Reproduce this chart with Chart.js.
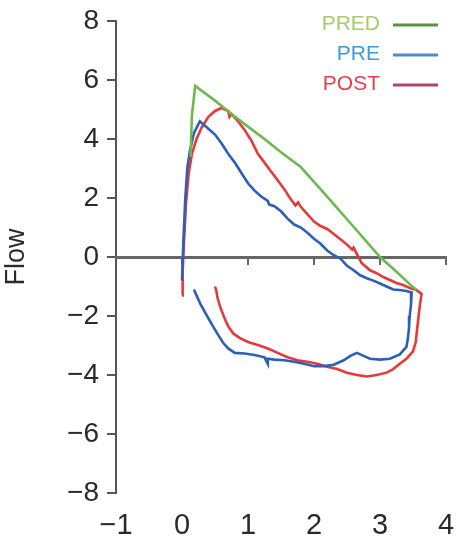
<!DOCTYPE html>
<html>
<head>
<meta charset="utf-8">
<script src="https://cdn.jsdelivr.net/npm/chart.js@4.4.0/dist/chart.umd.min.js"></script>
<style>
html,body{margin:0;padding:0;background:#fff;}
#wrap{width:461px;height:543px;position:relative;}
</style>
</head>
<body>
<div id="wrap"><canvas id="c" width="461" height="543"></canvas></div>
<script>
// ---- data ----
const seriesNames = ['PRED', 'PRE', 'POST'];

const predX = [0.13, 0.15, 0.2, 0.5, 0.75, 1.0, 1.25, 1.5, 1.8, 2.0, 2.25, 2.5, 2.75, 3.0, 3.25, 3.45, 3.55];
const predY = [3.4, 4.8, 5.8, 5.3, 4.85, 4.42, 4.0, 3.55, 3.05, 2.55, 1.92, 1.28, 0.64, 0.0, -0.5, -0.92, -1.12];

const preX = [0.0, 0.02, 0.05, 0.08, 0.12, 0.18, 0.27, 0.4, 0.5, 0.6, 0.7, 0.8, 0.9, 1.0, 1.1, 1.2, 1.3, 1.32, 1.4, 1.5, 1.6, 1.7, 1.8, 1.9, 2.0, 2.1, 2.2, 2.3, 2.4, 2.5, 2.6, 2.7, 2.8, 2.9, 3.0, 3.1, 3.2, 3.3, 3.4, 3.48,
  3.47, 3.45, 3.44, 3.42, 3.4, 3.3, 3.15, 3.0, 2.85, 2.75, 2.65, 2.55, 2.45, 2.3, 2.15, 2.0, 1.85, 1.7, 1.55, 1.4, 1.3, 1.3, 1.25, 1.1, 0.95, 0.8, 0.7, 0.62, 0.55, 0.47, 0.38, 0.28, 0.22, 0.18];
const preY = [-0.8, 0.5, 2.0, 3.0, 3.6, 4.2, 4.6, 4.35, 4.15, 3.85, 3.5, 3.2, 2.85, 2.5, 2.25, 2.05, 1.9, 1.78, 1.72, 1.55, 1.3, 1.1, 1.0, 0.82, 0.62, 0.45, 0.22, 0.06, -0.05, -0.3, -0.45, -0.62, -0.72, -0.8, -0.9, -1.0, -1.1, -1.12, -1.15, -1.2,
  -1.6, -2.0, -2.4, -2.8, -3.05, -3.3, -3.45, -3.48, -3.45, -3.35, -3.25, -3.35, -3.5, -3.65, -3.7, -3.7, -3.62, -3.55, -3.5, -3.48, -3.45, -3.62, -3.4, -3.32, -3.27, -3.25, -3.1, -2.9, -2.65, -2.35, -2.0, -1.6, -1.3, -1.1];

const postX = [0.0, 0.01, 0.03, 0.06, 0.1, 0.15, 0.22, 0.3, 0.4, 0.5, 0.6, 0.7, 0.72, 0.75, 0.85, 0.95, 1.05, 1.15, 1.25, 1.35, 1.45, 1.55, 1.65, 1.72, 1.76, 1.8, 1.9, 2.0, 2.1, 2.2, 2.3, 2.4, 2.5, 2.58, 2.6, 2.65, 2.72, 2.85, 2.95, 3.05, 3.15, 3.25, 3.35, 3.45, 3.55, 3.63,
  3.6, 3.58, 3.56, 3.54, 3.5, 3.4, 3.3, 3.2, 3.1, 2.95, 2.8, 2.65, 2.5, 2.35, 2.2, 2.05, 1.9, 1.75, 1.6, 1.45, 1.3, 1.15, 1.0, 0.88, 0.78, 0.7, 0.64, 0.58, 0.54, 0.52, 0.5];
const postY = [-1.3, -0.5, 0.5, 1.8, 2.8, 3.5, 4.0, 4.4, 4.75, 4.95, 5.05, 4.95, 4.75, 4.85, 4.6, 4.3, 3.95, 3.5, 3.2, 2.9, 2.6, 2.3, 1.95, 1.75, 1.85, 1.7, 1.45, 1.2, 1.05, 0.95, 0.78, 0.6, 0.42, 0.25, 0.32, 0.1, -0.2, -0.45, -0.55, -0.68, -0.78, -0.88, -0.95, -1.05, -1.12, -1.25,
  -1.7, -2.1, -2.5, -2.9, -3.2, -3.45, -3.62, -3.8, -3.92, -4.0, -4.05, -4.0, -3.92, -3.8, -3.72, -3.62, -3.55, -3.5, -3.4, -3.25, -3.1, -2.98, -2.88, -2.75, -2.6, -2.35, -2.05, -1.7, -1.4, -1.15, -1.0];

const xTickValues = [-1, 0, 1, 2, 3, 4];
const xTickLabels = ['\u22121', '0', '1', '2', '3', '4'];
const yTickValues = [-8, -6, -4, -2, 0, 2, 4, 6, 8];
const yTickLabels = ['\u22128', '\u22126', '\u22124', '\u22122', '0', '2', '4', '6', '8'];
const yAxisTitle = 'Flow';

// ---- styles ----
const lineColors = ['#6cb94f', '#2c5fb8', '#e63a3a'];
const legendTextColors = ['#a9c96e', '#3f9bd6', '#e2404e'];
const legendLineColors = ['#5b8f4a', '#4a8fc6', '#b04670'];
const FONT = "'Liberation Sans', Arial, sans-serif";

function pts(xs, ys) { return xs.map((x, i) => ({ x: x, y: ys[i] })); }
const seriesData = [pts(predX, predY), pts(preX, preY), pts(postX, postY)];

const legendPlugin = {
  id: 'rightLegend',
  afterDraw(chart) {
    const ctx = chart.ctx;
    ctx.save();
    ctx.font = '21px ' + FONT;
    ctx.textAlign = 'right';
    ctx.textBaseline = 'middle';
    const ys = [24, 54, 84];
    seriesNames.forEach((name, i) => {
      ctx.fillStyle = legendTextColors[i];
      ctx.fillText(name, 380, ys[i]);
      ctx.strokeStyle = legendLineColors[i];
      ctx.lineWidth = 3;
      ctx.beginPath();
      ctx.moveTo(393, ys[i] + 1);
      ctx.lineTo(438, ys[i] + 1);
      ctx.stroke();
    });
    ctx.restore();
  }
};

new Chart(document.getElementById('c'), {
  type: 'scatter',
  data: {
    datasets: seriesNames.map((name, i) => ({
      label: name,
      data: seriesData[i],
      showLine: true,
      borderColor: lineColors[i],
      backgroundColor: lineColors[i],
      borderWidth: 2.6,
      pointRadius: 0,
      tension: 0,
      xAxisID: 'x',
      yAxisID: 'y'
    }))
  },
  options: {
    responsive: false,
    devicePixelRatio: 1,
    animation: false,
    layout: { padding: { top: 21, right: 15, left: 0, bottom: 0 } },
    plugins: { legend: { display: false }, tooltip: { enabled: false } },
    scales: {
      y: {
        type: 'linear',
        position: 'left',
        min: -8, max: 8,
        ticks: {
          stepSize: 2,
          color: '#2a2a2a',
          font: { family: FONT, size: 28 },
          padding: 8,
          callback: (v) => { const k = yTickValues.indexOf(v); return k >= 0 ? yTickLabels[k] : ''; }
        },
        grid: { display: true, drawOnChartArea: false, drawTicks: true, tickLength: 9, color: '#555', lineWidth: 2 },
        border: { display: true, color: '#555', width: 2 },
        title: { display: true, text: yAxisTitle, color: '#2a2a2a', font: { family: FONT, size: 27 }, padding: 0 },
        afterFit: (s) => { s.width = 116; s.paddingTop = 0; s.paddingBottom = 0; }
      },
      x: {
        type: 'linear',
        position: { y: 0 },
        min: -1, max: 4,
        ticks: { stepSize: 1, display: false },
        grid: { display: true, drawOnChartArea: false, drawTicks: true, tickLength: 6, color: '#666', lineWidth: 2 },
        border: { display: true, color: '#666', width: 3 }
      },
      x2: {
        type: 'linear',
        axis: 'x',
        position: 'bottom',
        min: -1, max: 4,
        ticks: {
          stepSize: 1,
          color: '#2a2a2a',
          font: { family: FONT, size: 29 },
          padding: 16,
          callback: (v) => { const k = xTickValues.indexOf(v); return k >= 0 ? xTickLabels[k] : ''; }
        },
        grid: { display: false, drawTicks: false },
        border: { display: false },
        afterFit: (s) => { s.height = 50; s.paddingLeft = 0; s.paddingRight = 0; }
      }
    }
  },
  plugins: [legendPlugin]
});
</script>
</body>
</html>
